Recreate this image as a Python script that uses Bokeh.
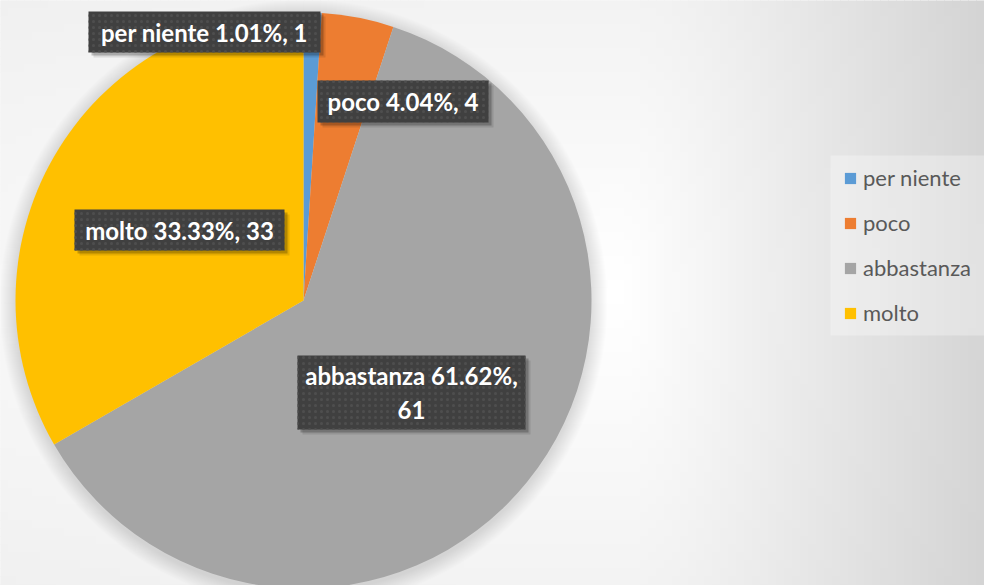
import numpy as np
from bokeh.plotting import figure
from bokeh.models import Range1d, ColumnDataSource, Legend, LegendItem
from bokeh.core.properties import value
from bokeh.embed import file_html
from bokeh.resources import INLINE

# ---------------- data ----------------
categories = ["per niente", "poco", "abbastanza", "molto"]
counts = [1, 4, 61, 33]
colors = ["#5B9BD5", "#ED7D31", "#A5A5A5", "#FFC000"]

# ---------------- layout (screen px of the reference) ----------------
PAGE_W, PAGE_H = 984, 585
CX, CY, R = 303, 300, 288
label_centers = [(204, 31.5), (402.5, 101), (411, 392), (179, 229.5)]
label_sizes = [(232, 41), (171, 42), (228, 74), (210, 41)]
label_wrap = [False, False, True, False]
legend_box = (830, 155, 990, 335)  # left, top, right, bottom (screen px)

def Y(sy):
    return PAGE_H - sy

total = sum(counts)
fracs = [c / total for c in counts]
starts, ends = [], []
a = np.pi / 2
for f in fracs:
    starts.append(a)
    a = a - 2 * np.pi * f
    ends.append(a)

p = figure(width=PAGE_W, height=PAGE_H, output_backend="svg", toolbar_location=None,
           x_range=Range1d(0, PAGE_W), y_range=Range1d(0, PAGE_H), min_border=0)
p.axis.visible = False
p.grid.visible = False
p.outline_line_color = None
p.background_fill_color = "#f2f2f2"
p.border_fill_color = "#f2f2f2"

# background gradient (decoration), drawn as small overlapping cells
step = 8
GX, GY = 620, 295
bl, br, bt, bb, bc = [], [], [], [], []
for sx0 in range(0, PAGE_W, step):
    for sy0 in range(0, PAGE_H, step):
        mx, my = sx0 + step / 2, sy0 + step / 2
        dx, dy = mx - GX, my - GY
        ax = 0.115 if dx > 0 else 0.0136
        v = 255 - np.hypot(ax * dx, 0.042 * dy)
        v = int(round(min(255, max(0, v))))
        bl.append(sx0 - 0.5)
        br.append(sx0 + step + 0.5)
        bt.append(Y(sy0) + 0.5)
        bb.append(Y(sy0 + step) - 0.5)
        bc.append("#%02x%02x%02x" % (v, v, v))
p.quad(left=bl, right=br, top=bt, bottom=bb, fill_color=bc, line_color=None)

# legend panel
p.quad(left=[legend_box[0]], right=[legend_box[2]], top=[Y(legend_box[1])],
       bottom=[Y(legend_box[3])], fill_color="white", fill_alpha=0.3, line_color=None)

# pie shadow (soft halo)
shadow_r = [R + k for k in range(16, 0, -1)]
p.circle(x=[CX] * len(shadow_r), y=[Y(CY + 3)] * len(shadow_r), radius=shadow_r,
         fill_color="black", fill_alpha=0.009, line_color=None)

src = ColumnDataSource(dict(cat=categories, start=starts, end=ends, color=colors))
wedges = p.wedge(x=CX, y=Y(CY), radius=R, start_angle="start", end_angle="end",
                 direction="clock", fill_color="color", line_color=None, source=src)

# labels
texts = []
for cat, c, f, wrap in zip(categories, counts, fracs, label_wrap):
    sep = "\n" if wrap else " "
    texts.append(f"{cat} {f*100:.2f}%,{sep}{c}")

lx = [c[0] for c in label_centers]
ly = [Y(c[1]) for c in label_centers]
lw = [s[0] for s in label_sizes]
lh = [s[1] for s in label_sizes]

for off, al in [(5, 0.10), (3, 0.22)]:
    p.rect(x=[x + off for x in lx], y=[y - off for y in ly], width=lw, height=lh,
           fill_color="black", fill_alpha=al, line_color=None)
p.rect(x=lx, y=ly, width=lw, height=lh, fill_color="#404040", line_color=None,
       hatch_pattern="dot", hatch_color="#4e4e4e", hatch_scale=6, hatch_weight=1)
p.text(x=lx, y=ly, text=texts, text_color="white", text_font=value("Lato"),
       text_font_style="bold", text_font_size="24px", text_align="center",
       text_baseline="middle", text_line_height=1.2)

# legend
legend = Legend(items=[LegendItem(label=cat, renderers=[wedges], index=i)
                       for i, cat in enumerate(categories)],
                location=(843, 259), orientation="vertical",
                label_text_font="Lato", label_text_font_size="22px",
                label_text_color="#595959", glyph_width=14, glyph_height=14,
                label_height=20, spacing=18, padding=14, label_standoff=6,
                background_fill_alpha=0, border_line_color=None, margin=0)
p.add_layout(legend, "center")

open("out.html", "w").write(file_html(p, INLINE))
